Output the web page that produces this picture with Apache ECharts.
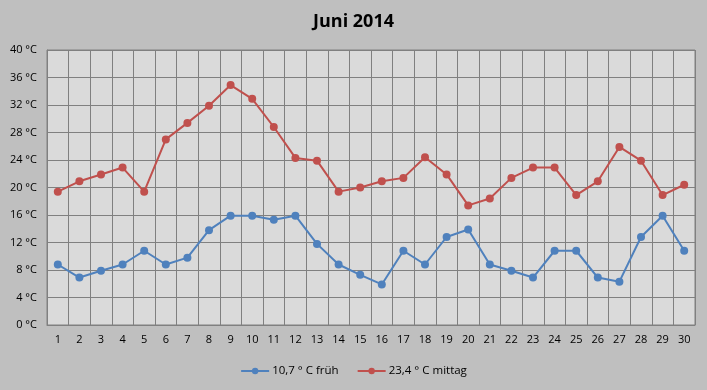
<!DOCTYPE html>
<html><head><meta charset="utf-8">
<script src="https://cdn.jsdelivr.net/npm/echarts@6/dist/echarts.min.js"></script>
<style>html,body{margin:0;padding:0;background:#bfbfbf}#c{width:707px;height:390px}</style>
</head><body><div id="c"></div>
<script>
const days = ['1','2','3','4','5','6','7','8','9','10','11','12','13','14','15','16','17','18','19','20','21','22','23','24','25','26','27','28','29','30'];
const frueh = [8.8,6.9,7.9,8.8,10.8,8.8,9.8,13.8,15.9,15.9,15.3,15.9,11.8,8.8,7.3,5.9,10.8,8.8,12.8,13.9,8.8,7.9,6.9,10.8,10.8,6.9,6.3,12.8,15.9,10.8];
const mittag = [19.4,20.9,21.9,22.9,19.4,27.0,29.4,31.9,34.9,32.9,28.8,24.3,23.9,19.4,20.0,20.9,21.4,24.4,21.9,17.4,18.4,21.4,22.9,22.9,18.9,20.9,25.9,23.9,18.9,20.4];
const yTicks = {min:0, max:40, interval:4};
const seriesNames = ['10,7 ° C früh','23,4 ° C mittag'];
const colors = ['#4f81bd','#c0504d'];

const chart = echarts.init(document.getElementById('c'));
const font = 'Open Sans, Liberation Sans, sans-serif';
chart.setOption({
  backgroundColor:'#bfbfbf',
  animation:false,
  title:{text:'Juni 2014',left:'center',top:8,textStyle:{fontFamily:font,fontSize:18,fontWeight:'bold',color:'#000'}},
  legend:{show:true,bottom:8,left:'center',itemGap:18,itemWidth:28,itemHeight:8,
    data:seriesNames,textStyle:{fontFamily:font,fontSize:11.5,color:'#000',padding:[0,0,0,-2]}},
  grid:{left:47,right:12,top:50,bottom:65,show:true,backgroundColor:'#dadada',borderColor:'#808080',borderWidth:1},
  xAxis:{type:'category',data:days,boundaryGap:true,
    axisLine:{lineStyle:{color:'#808080'}},axisTick:{show:false},
    axisLabel:{fontFamily:font,fontSize:11,color:'#000',margin:9,interval:0},
    splitLine:{show:true,interval:0,lineStyle:{color:'#808080',width:1}}},
  yAxis:{type:'value',min:yTicks.min,max:yTicks.max,interval:yTicks.interval,
    axisLine:{show:true,lineStyle:{color:'#808080'}},axisTick:{show:false},
    axisLabel:{fontFamily:font,fontSize:11,color:'#000',margin:10,formatter:'{value} °C'},
    splitLine:{lineStyle:{color:'#808080',width:1}}},
  series:[
    {name:seriesNames[0],type:'line',data:frueh,symbol:'circle',symbolSize:8,
      lineStyle:{width:2,color:colors[0]},itemStyle:{color:colors[0]}},
    {name:seriesNames[1],type:'line',data:mittag,symbol:'circle',symbolSize:8,
      lineStyle:{width:2,color:colors[1]},itemStyle:{color:colors[1]}}
  ]
});
</script></body></html>
